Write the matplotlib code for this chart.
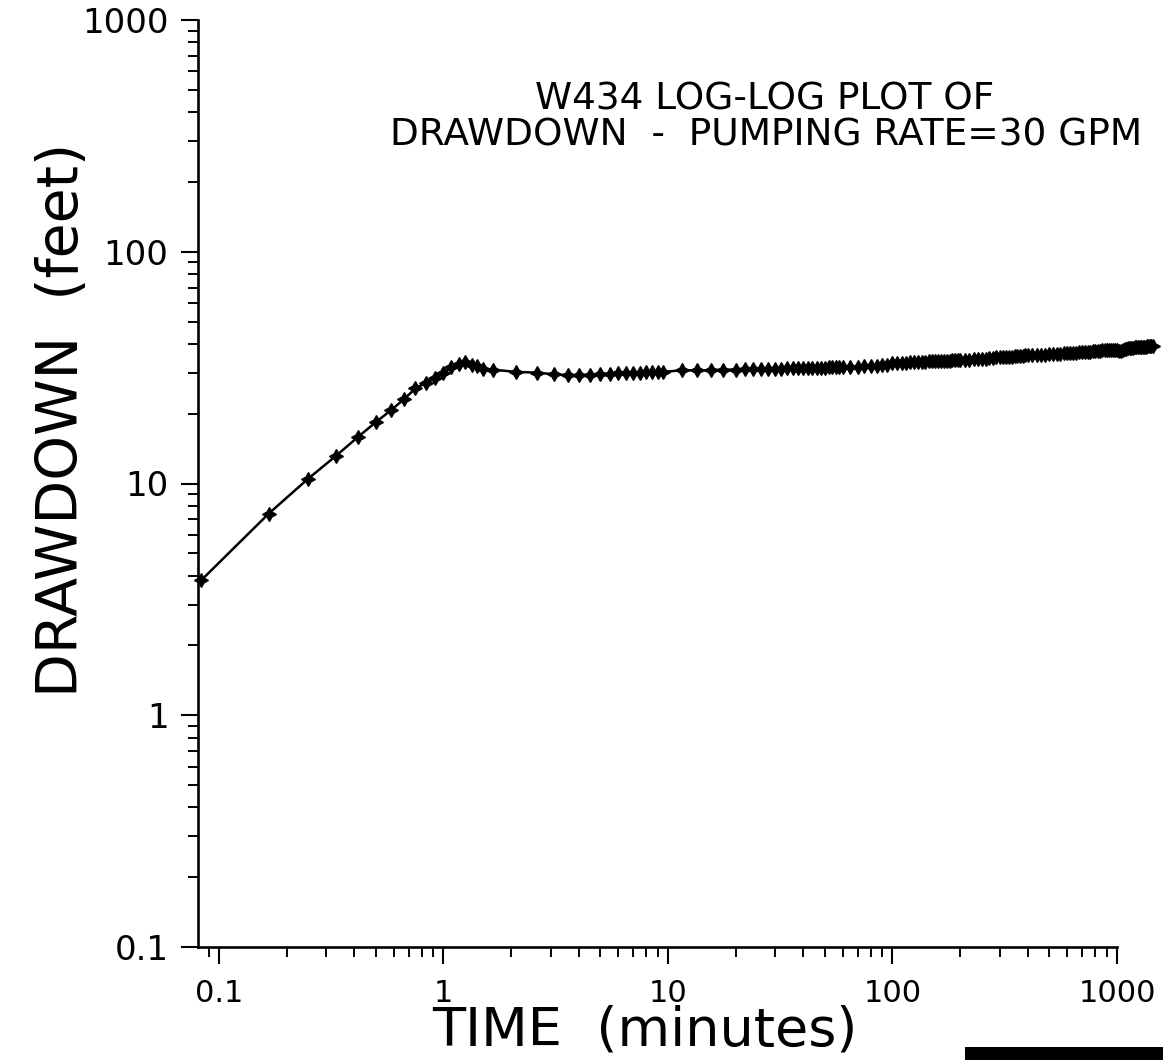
import matplotlib
matplotlib.use("Agg")
import matplotlib.pyplot as plt
from matplotlib.patches import Rectangle
from matplotlib.ticker import FixedLocator, FixedFormatter, LogLocator, NullFormatter
import numpy as np

# Pumping test W434: elapsed time (minutes) and drawdown (feet)
time_early = [0.0833, 0.1667, 0.25, 0.3333, 0.4167, 0.5, 0.5833, 0.6667, 0.75,
              0.8333, 0.9167, 1.0, 1.0833, 1.1667, 1.25, 1.3333, 1.4167, 1.5, 1.6667]
dd_early = [3.82, 7.42, 10.5, 13.2, 15.9, 18.4, 20.7, 23.1, 25.7,
            27.2, 28.4, 30.0, 31.7, 32.7, 33.5, 32.4, 32.1, 31.3, 31.0]

time_mid = [2.1, 2.6, 3.1, 3.6, 4.0, 4.5, 5.0, 5.5, 6.0, 6.5, 7.0, 7.5, 8.0,
            8.5, 9.0, 9.5, 11.5, 13.5, 15.5, 17.5]
dd_mid = [30.3, 30.1, 29.6, 29.3, 29.3, 29.5, 29.6, 29.7, 30.0, 30.0, 30.1, 30.1,
          30.3, 30.3, 30.3, 30.3, 30.8, 30.8, 30.8, 31.0]

time_late1 = [20, 22, 24, 26, 28, 30, 32, 34, 36, 38, 40, 42, 44, 46, 48, 50,
              52, 54, 56, 58, 60]
dd_late1 = [31.0, 31.1, 31.1, 31.2, 31.2, 31.3, 31.3, 31.4, 31.4, 31.4, 31.5,
            31.5, 31.5, 31.6, 31.6, 31.6, 31.7, 31.7, 31.7, 31.8, 31.8]

time_late2 = [65, 70, 75, 80, 85, 90, 95, 100, 105, 110, 115, 120, 125, 130,
              135, 140, 145, 150, 155, 160, 165, 170, 175, 180, 185, 190, 195, 200]
dd_late2 = [31.9, 31.9, 32.0, 32.1, 32.2, 32.3, 32.4, 33.1, 33.1, 33.2, 33.2,
            33.3, 33.4, 33.4, 33.5, 33.6, 33.7, 33.7, 33.7, 33.8, 33.8, 33.9,
            33.9, 33.9, 34.0, 34.0, 34.0, 34.0]

time_late3 = [210, 220, 230, 240, 250, 260, 270, 280, 290, 300, 310, 320, 330,
              340, 350, 360, 370, 380, 390, 400]
dd_late3 = [34.1, 34.2, 34.3, 34.4, 34.5, 34.6, 34.7, 34.8, 35.0, 35.0, 35.1,
            35.2, 35.3, 35.3, 35.4, 35.5, 35.6, 35.6, 35.7, 35.8]

time_late4 = [420, 440, 460, 480, 500, 520, 540, 560, 580, 600, 620, 640, 660,
              680, 700, 720, 740, 760, 780, 800, 820, 840, 860, 880, 900, 920,
              940, 960, 980, 1000, 1020, 1040, 1060, 1080, 1100, 1120, 1140,
              1160, 1180, 1200, 1220, 1240, 1260, 1280, 1300, 1320, 1340, 1360,
              1380, 1400, 1420, 1440]
dd_late4 = [35.8, 35.9, 36.0, 36.0, 36.1, 36.2, 36.3, 36.3, 36.4, 36.5, 36.5,
            36.6, 36.7, 36.8, 36.8, 36.9, 37.0, 37.1, 37.2, 37.3, 37.3, 37.4,
            37.5, 37.5, 37.6, 37.7, 37.8, 37.8, 37.8, 37.5, 37.4, 37.4, 37.7,
            38.0, 38.2, 38.3, 38.4, 38.5, 38.6, 38.7, 38.7, 38.8, 38.8, 38.9,
            38.9, 39.0, 39.0, 39.1, 39.1, 39.2, 39.2, 39.3]

x_ticks = [0.1, 1, 10, 100, 1000]
x_tick_labels = ["0.1", "1", "10", "100", "1000"]
y_ticks = [0.1, 1, 10, 100, 1000]
y_tick_labels = ["0.1", "1", "10", "100", "1000"]

title_lines = ["W434 LOG-LOG PLOT OF", "DRAWDOWN  -  PUMPING RATE=30 GPM"]
x_label = "TIME  (minutes)"
y_label = "DRAWDOWN  (feet)"

time_min = np.concatenate([time_early, time_mid, time_late1, time_late2, time_late3, time_late4])
drawdown_ft = np.concatenate([dd_early, dd_mid, dd_late1, dd_late2, dd_late3, dd_late4])

plt.rcParams["font.family"] = ["DejaVu Sans"]

W, H = 1163, 1060
fig = plt.figure(figsize=(W / 100, H / 100), dpi=100)
fig.patch.set_facecolor("white")

left, right, top, bottom = 197.7, 1117.0, 20.0, 947.0
ax = fig.add_axes([left / W, 1 - bottom / H, (right - left) / W, (bottom - top) / H])
ax.set_xscale("log")
ax.set_yscale("log")
ax.set_xlim(0.0804, 1000)
ax.set_ylim(0.1, 1000)

for side in ("top", "right"):
    ax.spines[side].set_visible(False)
for side in ("left", "bottom"):
    ax.spines[side].set_linewidth(1.9)
    ax.spines[side].set_color("black")

ax.plot(time_min, drawdown_ft, color="black", linewidth=1.8,
        marker=(4, 1, 0), markersize=10, markeredgewidth=1.0,
        markerfacecolor="black", markeredgecolor="black", clip_on=False, zorder=3)

ax.xaxis.set_major_locator(FixedLocator(x_ticks))
ax.xaxis.set_major_formatter(FixedFormatter(x_tick_labels))
ax.yaxis.set_major_locator(FixedLocator(y_ticks))
ax.yaxis.set_major_formatter(FixedFormatter(y_tick_labels))
ax.xaxis.set_minor_locator(LogLocator(base=10, subs=np.arange(2, 10)))
ax.yaxis.set_minor_locator(LogLocator(base=10, subs=np.arange(2, 10)))
ax.xaxis.set_minor_formatter(NullFormatter())
ax.yaxis.set_minor_formatter(NullFormatter())

ax.tick_params(axis="both", which="major", direction="out", length=12, width=1.5,
               color="black")
ax.tick_params(axis="both", which="minor", direction="out", length=7, width=1.4,
               color="black")
ax.tick_params(axis="x", which="major", pad=11, labelsize=22)
ax.tick_params(axis="y", which="major", pad=9, labelsize=24.5)

fig.text(645 / W, 1 - 1046 / H, x_label, fontsize=39, ha="center", va="baseline")
fig.text(63 / W, 1 - 420 / H, y_label, fontsize=41, rotation=90,
         ha="center", va="center")

fig.text(765 / W, 1 - 100 / H, title_lines[0], fontsize=27, ha="center", va="center")
fig.text(766 / W, 1 - 136 / H, title_lines[1], fontsize=27, ha="center", va="center")

# Heavy rule along the lower right edge of the sheet
fig.patches.append(Rectangle((965 / W, 0), (W - 965) / W, 13 / H,
                             transform=fig.transFigure, facecolor="black",
                             edgecolor="none"))

fig.savefig("out.png", dpi=100, facecolor="white")
